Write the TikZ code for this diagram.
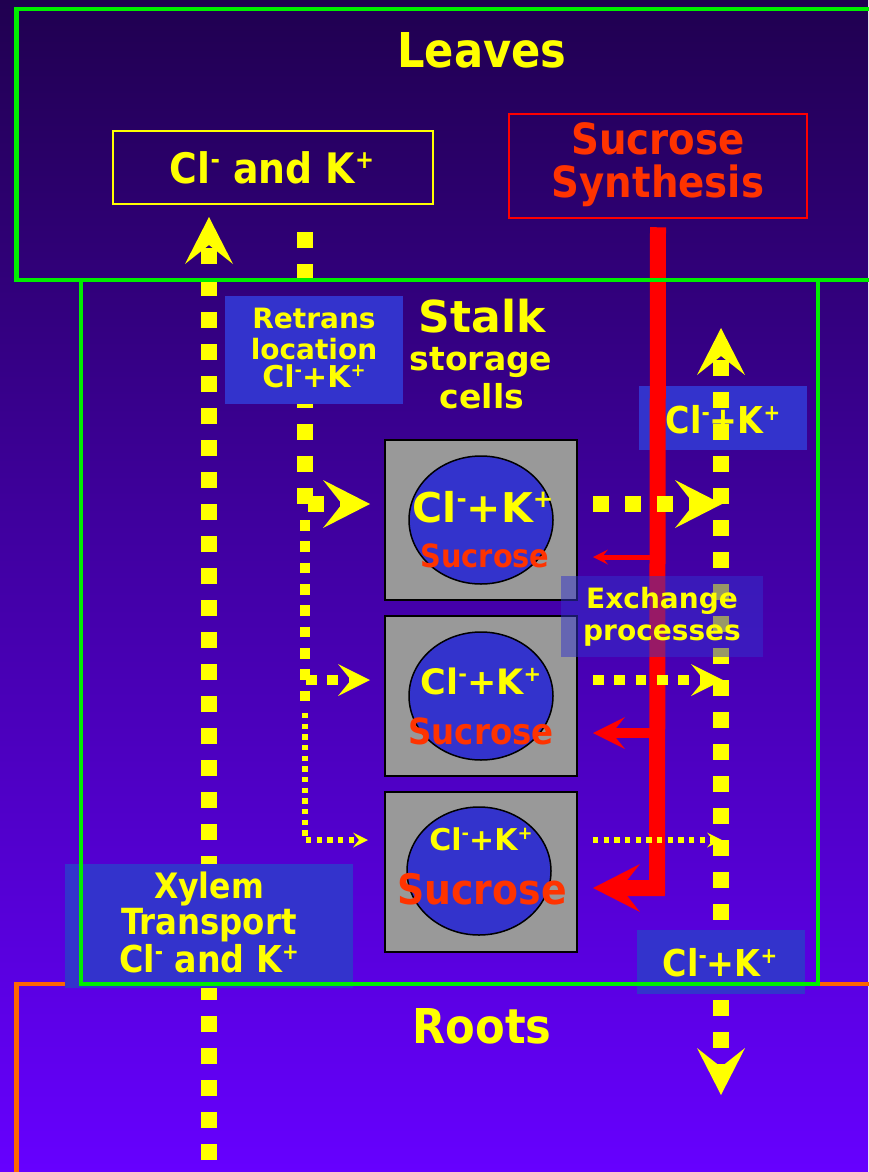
\documentclass[tikz,border=0pt]{standalone}
\usepackage{fontspec}
\usepackage{graphicx}
\usetikzlibrary{arrows.meta,shapes.geometric}
\setmainfont{DejaVu Sans}
\newfontfamily\condf{DejaVu Sans Condensed}
\definecolor{ylw}{HTML}{FFFF00}
\definecolor{sucr}{HTML}{FF3300}
\definecolor{rd}{HTML}{FF0000}
\definecolor{grn}{HTML}{00EE00}
\definecolor{org}{HTML}{FF6600}
\definecolor{lblue}{HTML}{3333CC}
\definecolor{cellgray}{HTML}{999999}
\definecolor{bgtop}{HTML}{200050}
\definecolor{bgbot}{HTML}{6600FF}
\newcommand\ionsup[1]{\raisebox{0.35em}{\scalebox{0.6}{#1}}}
\newcommand\clk{Cl\ionsup{-}+K\ionsup{+}}
\newcommand\clandk{Cl\ionsup{-} and K\ionsup{+}}
\newcommand\fsz[1]{\fontsize{#1}{#1}\selectfont}
\tikzset{
  txt/.style={anchor=base, inner sep=0pt, font=\bfseries, text=ylw},
  ctxt/.style={anchor=base, inner sep=0pt, font=\condf\bfseries, text=ylw},
  frame/.style={line width=4.5pt},
  bluebox/.style={fill=lblue, inner sep=0pt},
  cellbox/.style={fill=cellgray, draw=black, line width=2pt, minimum width=192pt, minimum height=160pt, inner sep=0pt},
  nucleus/.style={ellipse, fill=lblue, draw=black, line width=1.5pt, minimum width=144pt, minimum height=128pt, inner sep=0pt},
  tipL/.style={-{Stealth[length=47pt,width=48pt,inset=19pt,line width=0pt]}},
  tipM/.style={-{Stealth[length=32pt,width=32pt,inset=13pt,line width=0pt]}},
  tipS/.style={-{Stealth[length=15pt,width=15pt,inset=6pt,line width=0pt]}},
  yth/.style={draw=ylw, line width=16pt, dash pattern=on 16pt off 16pt},
  ymd/.style={draw=ylw, line width=10.67pt, dash pattern=on 10.67pt off 10.67pt},
  ytn/.style={draw=ylw, line width=5.33pt, dash pattern=on 5.33pt off 5.33pt},
  rth/.style={draw=rd, line width=16pt, line join=miter},
  rmd/.style={draw=rd, line width=10pt},
  rtn/.style={draw=rd, line width=5pt},
}
\begin{document}
\begin{tikzpicture}[x=1pt,y=-1pt]
\useasboundingbox (0,0) rectangle (868,1172);
\shade[top color=bgtop, bottom color=bgbot] (0,0) rectangle (868,1172);
% roots frame
\draw[org, frame] (16.5,984) rectangle (880,1190);
% boxes in leaves
\node[draw=ylw, line width=2.5pt, minimum width=320pt, minimum height=73pt, inner sep=0pt] (clkbox) at (273,167.5) {};
\node[draw=rd, line width=2.5pt, minimum width=298pt, minimum height=104pt, inner sep=0pt] (synth) at (658,166) {};
% top right label box (under lines)
\node[bluebox, minimum width=168pt, minimum height=64pt] (trbox) at (723,418) {};
% coordinates
\coordinate (synB) at ([yshift=-8pt]synth.south);
\coordinate (rdC) at (657,888);
\coordinate (rinC) at (593,888);
\coordinate (rjB) at (657,733);
\coordinate (rinB) at (593,733);
\coordinate (rjA) at (657,557);
\coordinate (rinA) at (593,557);
\coordinate (xylB) at (209,1192);
\coordinate (xylT) at (209,217);
\coordinate (rtT) at (305,232);
\coordinate (rtJ1) at (305,504);
\coordinate (rtH1) at (308,504);
\coordinate (inA) at (370,504);
\coordinate (rtM1) at (305,520);
\coordinate (rtJ2) at (305,701.3);
\coordinate (rtH2) at (306,680);
\coordinate (inB) at (370,680);
\coordinate (rtN1) at (305,713);
\coordinate (inC) at (368,840);
\coordinate (outA) at (593,504);
\coordinate (colA) at (722,504);
\coordinate (outB) at (593,680);
\coordinate (colB) at (723,680);
\coordinate (outC) at (593,840);
\coordinate (colC) at (722,840);
\coordinate (colM) at (721,696);
\coordinate (colT) at (721,328);
\coordinate (colBot) at (721,1095);
% red sucrose lines
\draw[rth, tipL] (synB) -- (rdC) -- (rinC);
\draw[rmd, tipM] (rjB) -- (rinB);
\draw[rtn, tipS] (rjA) -- (rinA);
% yellow dotted lines
\draw[yth, tipL] (xylB) -- (xylT);
\draw[yth] (rtT) -- (rtJ1);
\draw[yth, tipL] (rtH1) -- (inA);
\draw[ymd] (rtM1) -- (rtJ2);
\draw[ymd, tipM] (rtH2) -- (inB);
\draw[ytn, tipS] (rtN1) |- (inC);
\draw[yth, tipL] (outA) -- (colA);
\draw[ymd, tipM] (outB) -- (colB);
\draw[ytn, tipS] (outC) -- (colC);
\draw[yth, tipL] (colM) -- (colT);
\draw[yth, dash phase=16pt, tipL] (colM) -- (colBot);
% covering label boxes
\node[bluebox, minimum width=178pt, minimum height=108pt] (retbox) at (314,350) {};
\node[bluebox, minimum width=288pt, minimum height=124pt] (xylbox) at (209,926) {};
\node[bluebox, minimum width=168pt, minimum height=64pt] (brbox) at (721,962) {};
% green frames
\draw[grn, frame] (16.5,9) rectangle (880,280);
\draw[grn, frame] (81,280) rectangle (818,984);
% cells
\node[cellbox] (cellA) at (481,520) {};
\node[cellbox] (cellB) at (481,696) {};
\node[cellbox] (cellC) at (481,872) {};
\node[nucleus] (nucA) at (481,520) {};
\node[nucleus] (nucB) at (481,696) {};
\node[nucleus] (nucC) at (479,871) {};
% exchange box
\node[fill=lblue, fill opacity=0.5, minimum width=202pt, minimum height=81pt, inner sep=0pt] (exbox) at (662,616.5) {};
% texts
\node[ctxt] (tLeaves) at (482,67) {\fsz{48}Leaves};
\node[ctxt] (tClK) at (272,183) {\fsz{42}\clandk};
\node[ctxt, text=sucr] (tSuc) at (658,154) {\fsz{43}Sucrose};
\node[ctxt, text=sucr] (tSyn) at (658,197) {\fsz{43}Synthesis};
\node[txt] (tRet1) at (314,328) {\fsz{28}Retrans};
\node[txt] (tRet2) at (314,359) {\fsz{28}location};
\node[txt] (tRet3) at (314,387) {\fsz{30}\clk};
\node[txt] (tStalk) at (482,332) {\fsz{44}Stalk};
\node[txt] (tStor) at (481,370) {\fsz{33}storage};
\node[txt] (tCells) at (482,408) {\fsz{33}cells};
\node[ctxt] (tTR) at (723,433) {\fsz{37}\clk};
\node[txt] (tA1) at (483,522) {\fsz{41}\clk};
\node[ctxt, text=sucr] (tA2) at (485,567) {\fsz{32}Sucrose};
\node[txt] (tEx1) at (662,608) {\fsz{28}Exchange};
\node[txt] (tEx2) at (662,640) {\fsz{28}processes};
\node[txt] (tB1) at (481,694) {\fsz{35}\clk};
\node[ctxt, text=sucr] (tB2) at (481,744) {\fsz{36}Sucrose};
\node[txt] (tC1) at (481,850) {\fsz{30}\clk};
\node[ctxt, text=sucr] (tC2) at (482,904) {\fsz{42}Sucrose};
\node[ctxt] (tX1) at (209,898) {\fsz{35}Xylem};
\node[ctxt] (tX2) at (209,934) {\fsz{36}Transport};
\node[ctxt] (tX3) at (209,972) {\fsz{37}\clandk};
\node[ctxt] (tBR) at (720,976) {\fsz{37}\clk};
\node[ctxt] (tRoots) at (482,1043) {\fsz{48}Roots};
\end{tikzpicture}
\end{document}
